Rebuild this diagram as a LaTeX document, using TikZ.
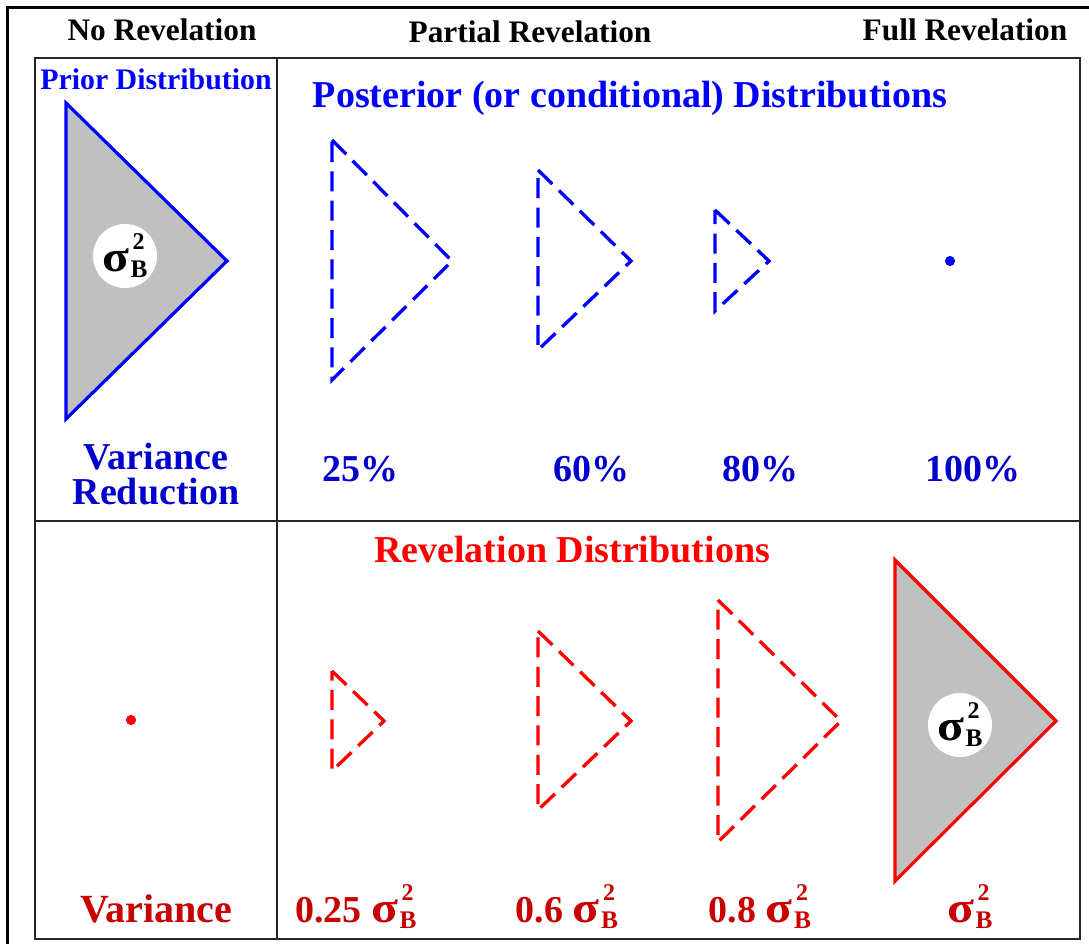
\documentclass[tikz,border=0pt]{standalone}
\usepackage{graphicx}
\usepackage{fontspec}
\setmainfont{Liberation Serif}
\usetikzlibrary{positioning}

\definecolor{postblue}{RGB}{0,0,255}
\definecolor{redublue}{RGB}{0,0,205}
\definecolor{revred}{RGB}{255,0,0}
\definecolor{varred}{RGB}{200,0,0}
\definecolor{distgray}{RGB}{192,192,192}

% sigma with stacked 2 over B
\newcommand{\sigb}{\scalebox{1.3}[1.15]{σ}\kern1pt\rlap{\kern1.5pt\raisebox{16.5pt}{\fontsize{18}{18}\selectfont 2}}\raisebox{-4.5pt}{\fontsize{19}{19}\selectfont B}}

\begin{document}
\begin{tikzpicture}[
    x=0.75pt, y=-0.75pt,
    every node/.style={inner sep=0pt},
    headtext/.style={font=\fontsize{23.5}{26}\selectfont\bfseries, anchor=base},
    bigtext/.style={font=\fontsize{28.5}{32}\selectfont\bfseries, anchor=base},
    gridline/.style={line width=1.6pt, draw=black!85},
    dashtri/.style={dash pattern=on 15pt off 7pt, line width=2.5pt, line join=miter},
    fulltri/.style={fill=distgray, line width=2.4pt, line join=miter},
    sigcircle/.style={circle, fill=white, minimum size=48pt,
        font=\fontsize{28.5}{32}\selectfont\bfseries},
]
\useasboundingbox (0,0) rectangle (1089,944);

% --- Frame and table ---
\draw[line width=2.4pt] (7.5,960) -- (7.5,7.5) -- (1100,7.5);
\draw[gridline] (35,58) rectangle (1080,939);
\draw[gridline] (277,58) -- (277,939);
\draw[gridline] (35,521) -- (1080,521);

% --- Column heads ---
\node[headtext] (nohead) at (162,41) {No Revelation};
\node[headtext] (parthead) at (530,43) {Partial Revelation};
\node[headtext] (fullhead) at (965,41) {Full Revelation};

% --- Upper row: prior and posterior ---
\node[headtext, font=\fontsize{22.4}{24}\selectfont\bfseries, text=postblue] (prior) at (156,90) {Prior Distribution};
\node[bigtext, text=postblue] (posterior) at (630,108) {Posterior (or conditional) Distributions};

\draw[fulltri, draw=postblue] (66,103) -- (227,261) -- (66,419) -- cycle;
\node[sigcircle] (priorsig) at (125,256) {\sigb};

\foreach \xl/\ytop/\xa/\ybot in {332/140/452/380, 538/170/631/350, 715/210/769/311}
    \draw[dashtri, draw=postblue] (\xl,\ytop) -- (\xa,261) -- (\xl,\ybot) -- cycle;
\fill[postblue] (950,261) circle (3.8pt);

\node[bigtext, text=redublue] (varred1) at (156,470) {Variance};
\node[bigtext, text=redublue] (varred2) at (156,505) {Reduction};

\node[bigtext, text=redublue] (p25) at (360,482) {25\%};
\node[bigtext, text=redublue] (p60) at (591,482) {60\%};
\node[bigtext, text=redublue] (p80) at (760,482) {80\%};
\node[bigtext, text=redublue] (p100) at (973,482) {100\%};

% --- Lower row: revelation ---
\node[bigtext, text=revred] (revdist) at (572,562) {Revelation Distributions};

\fill[revred] (131,720) circle (3.8pt);
\foreach \xl/\ytop/\xa/\ybot in {332/671/384/771, 538/631/631/810, 718/600/841/842}
    \draw[dashtri, draw=revred] (\xl,\ytop) -- (\xa,721) -- (\xl,\ybot) -- cycle;

\draw[fulltri, draw=revred] (895,560) -- (1056,721) -- (895,881) -- cycle;
\node[sigcircle] (fullsig) at (960,725) {\sigb};

\node[bigtext, font=\fontsize{30}{32}\selectfont\bfseries, text=varred] (variance) at (156,922) {Variance};
\node[bigtext, text=varred] (s25) at (356,922) {0.25 \sigb};
\node[bigtext, text=varred] (s60) at (567,922) {0.6 \sigb};
\node[bigtext, text=varred] (s80) at (760,922) {0.8 \sigb};
\node[bigtext, text=varred] (s100) at (970,922) {\sigb};

\end{tikzpicture}
\end{document}
